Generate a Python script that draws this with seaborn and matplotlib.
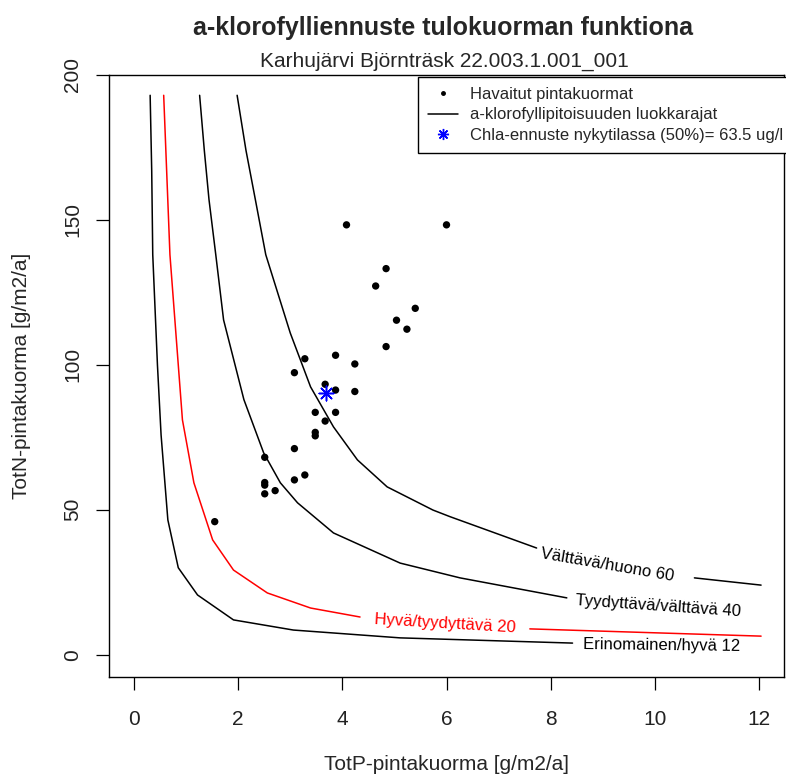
import matplotlib
matplotlib.use("Agg")
import matplotlib.pyplot as plt
from matplotlib.lines import Line2D
import numpy as np
import pandas as pd
import seaborn as sns

# Observed surface loads (TotP, TotN) in g/m2/a
obs_p = [4.08, 6.00, 4.84, 4.64, 5.40, 5.04, 5.24, 4.84, 3.28, 3.87, 4.24, 3.08, 3.67,
         3.87, 4.24, 3.48, 3.87, 3.67, 3.48, 3.48, 3.08, 2.51, 3.08, 3.28, 2.51, 2.51,
         2.51, 2.71, 1.55]
obs_n = [148.3, 148.3, 133.2, 127.2, 119.5, 115.4, 112.3, 106.3, 102.1, 103.3, 100.3, 97.3, 93.3,
         91.3, 90.8, 83.6, 83.6, 80.6, 76.7, 75.5, 71.1, 68.1, 60.3, 62.0, 59.4, 58.5,
         55.5, 56.6, 45.9]

# Current-state estimate
now_p = [3.69]
now_n = [90.4]

# Chlorophyll class boundary curves (segment id separates the parts around the label)
c12_p = [0.31, 0.34, 0.36, 0.45, 0.52, 0.65, 0.85, 1.22, 1.91, 3.06, 5.11, 8.42]
c12_n = [193, 167, 138, 100, 75.8, 46.5, 30.0, 20.6, 12.0, 8.5, 5.8, 4.0]
c12_s = [0] * 12

c20_p = [0.57, 0.69, 0.93, 1.15, 1.51, 1.91, 2.56, 3.39, 4.34, 7.60, 12.04]
c20_n = [193, 138, 81, 59.3, 39.6, 29.2, 21.3, 16.1, 13.0, 8.9, 6.4]
c20_s = [0, 0, 0, 0, 0, 0, 0, 0, 0, 1, 1]

c40_p = [1.26, 1.35, 1.44, 1.57, 1.72, 2.11, 2.49, 2.81, 3.14, 3.83, 5.11, 6.26, 8.31]
c40_n = [193, 174, 157, 138, 115.5, 88, 69.6, 59.3, 52.4, 42, 31.6, 26.5, 19.6]
c40_s = [0] * 13

c60_p = [1.98, 2.15, 2.33, 2.53, 3.00, 3.39, 3.83, 4.29, 4.86, 5.74, 6.07, 7.73, 10.76, 12.04]
c60_n = [193, 174, 157, 138, 111, 92.4, 78.6, 67.2, 57.9, 49.9, 47.6, 36.8, 26.5, 24.0]
c60_s = [0] * 12 + [1, 1]

# Curve labels: text, position, screen rotation, colour
lab_text = ["Erinomainen/hyvä 12", "Hyvä/tyydyttävä 20", "Tyydyttävä/välttävä 40", "Välttävä/huono 60"]
lab_p = [10.14, 5.97, 10.07, 9.09]
lab_n = [3.35, 10.6, 16.8, 30.95]
lab_rot = [-0.7, -3.4, -3.9, -9.8]
lab_col = ["black", "red", "black", "black"]

x_ticks = [0, 2, 4, 6, 8, 10, 12]
y_ticks = [0, 50, 100, 150, 200]

sns.set_style("ticks")
plt.rcParams["font.family"] = ["Liberation Sans", "DejaVu Sans"]

W, H = 786, 776
fig = plt.figure(figsize=(W / 100, H / 100), dpi=100)
ax = fig.add_axes([109 / W, 1 - 677 / H, (784 - 109) / W, (677 - 75) / H])


def px(x, y):
    return x / W, 1 - y / H


curves = [(c12_p, c12_n, c12_s, "black"), (c20_p, c20_n, c20_s, "red"),
          (c40_p, c40_n, c40_s, "black"), (c60_p, c60_n, c60_s, "black")]
for cp, cn, cs, col in curves:
    df = pd.DataFrame({"p": cp, "n": cn, "seg": cs})
    sns.lineplot(data=df, x="p", y="n", units="seg", estimator=None, sort=False,
                 color=col, lw=1.1, ax=ax, legend=False)

sns.scatterplot(x=obs_p, y=obs_n, color="black", s=28, edgecolor="none", ax=ax, legend=False)
sns.scatterplot(x=now_p, y=now_n, color="blue", marker=(8, 2, 0), s=110, linewidth=1.1, ax=ax,
                legend=False)

for t, x, y, r, c in zip(lab_text, lab_p, lab_n, lab_rot, lab_col):
    ax.text(x, y, t, color=c, fontsize=12, rotation=r, rotation_mode="anchor",
            ha="center", va="center")

ax.set_xlim(-0.48, 12.48)
ax.set_ylim(-7.7, 200)
ax.set_xticks(x_ticks)
ax.set_yticks(y_ticks)
ax.set_xticklabels([str(v) for v in x_ticks])
ax.set_yticklabels([str(v) for v in y_ticks], rotation=90, va="center")
ax.tick_params(axis="both", direction="out", length=9.5, width=0.9, labelsize=15,
               color="black", labelcolor="#222222", bottom=True, left=True)
ax.tick_params(axis="x", pad=14)
ax.tick_params(axis="y", pad=10)
ax.set_xlabel("")
ax.set_ylabel("")
for sp in ax.spines.values():
    sp.set_visible(True)
    sp.set_color("black")
    sp.set_linewidth(1.0)

handles = [
    Line2D([], [], color="black", marker="o", markersize=2.5, linestyle="none"),
    Line2D([], [], color="black", lw=1.1),
    Line2D([], [], color="blue", marker=(8, 2, 0), markersize=8, linestyle="none", mew=1.0),
]
labels = ["Havaitut pintakuormat", "a-klorofyllipitoisuuden luokkarajat",
          "Chla-ennuste nykytilassa (50%)= 63.5 ug/l"]
leg = fig.legend(handles, labels, loc="upper left", bbox_to_anchor=px(418, 77),
                 bbox_transform=fig.transFigure, fontsize=12, frameon=True, fancybox=False,
                 framealpha=1, edgecolor="black", borderpad=0.6, labelspacing=0.32,
                 handlelength=1.8, handletextpad=0.7, borderaxespad=0)
leg.get_frame().set_linewidth(1.0)

fig.text(*px(443.5, 28), "a-klorofylliennuste tulokuorman funktiona", ha="center", va="center",
         fontsize=18, fontweight="bold")
fig.text(*px(444, 61), "Karhujärvi Björnträsk 22.003.1.001_001", ha="center", va="center",
         fontsize=15)
fig.text(*px(446, 765), "TotP-pintakuorma [g/m2/a]", ha="center", va="center", fontsize=15)
fig.text(*px(22, 376), "TotN-pintakuorma [g/m2/a]", ha="center", va="center", fontsize=15,
         rotation=90)

fig.savefig("out.png", dpi=100)
